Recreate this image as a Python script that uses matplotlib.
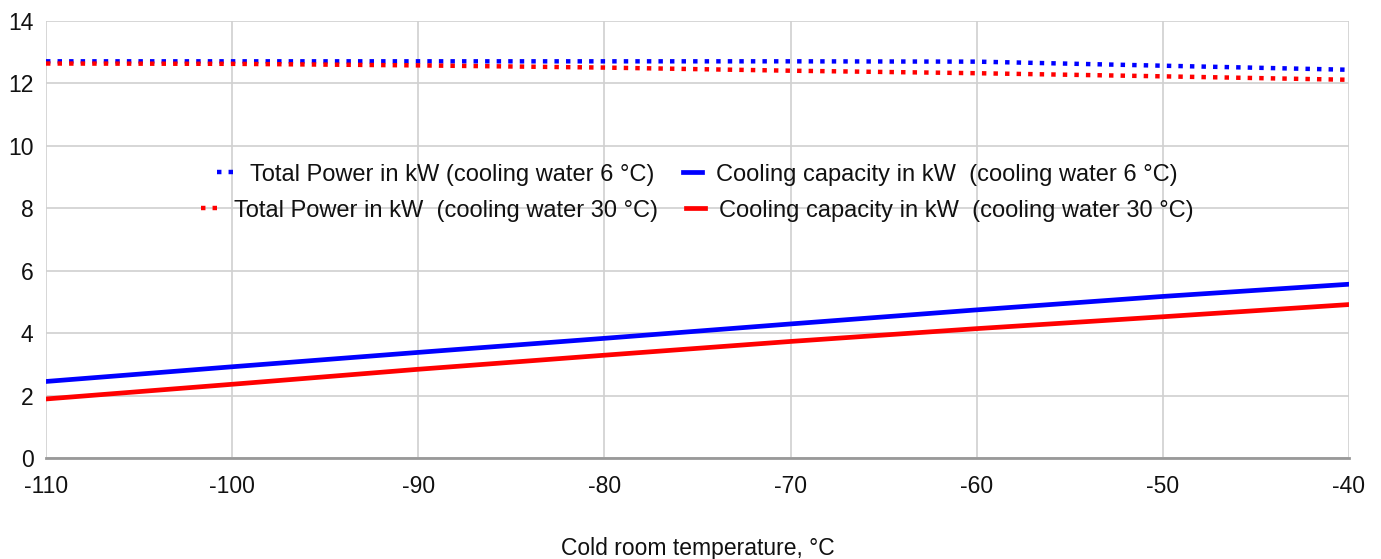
import matplotlib
matplotlib.use('Agg')
import matplotlib.pyplot as plt

plt.rcParams['font.family'] = ['Liberation Sans', 'DejaVu Sans']
plt.rcParams['axes.unicode_minus'] = False

# cold room temperature, degC
temps = [-110, -100, -90, -80, -70, -60, -50, -40]

# total power in kW
power_cw6 = [12.70, 12.70, 12.70, 12.70, 12.70, 12.69, 12.56, 12.43]
power_cw30 = [12.63, 12.62, 12.57, 12.50, 12.40, 12.32, 12.22, 12.11]

# cooling capacity in kW
cap_cw6 = [2.46, 2.93, 3.39, 3.84, 4.30, 4.75, 5.18, 5.57]
cap_cw30 = [1.90, 2.37, 2.85, 3.30, 3.74, 4.15, 4.53, 4.92]

labels = ['Total Power in kW (cooling water 6 °C)',
          'Cooling capacity in kW  (cooling water 6 °C)',
          'Total Power in kW  (cooling water 30 °C)',
          'Cooling capacity in kW  (cooling water 30 °C)']

fig = plt.figure(figsize=(13.81, 5.59), dpi=100)
ax = fig.add_axes([0.0333, 0.180, 0.9435, 0.783])

dot = (0, (1, 1.6))
l1, = ax.plot(temps, power_cw6, color='#0000ff', lw=3.2, ls=dot, label=labels[0])
l2, = ax.plot(temps, cap_cw6, color='#0000ff', lw=3.4, label=labels[1])
l3, = ax.plot(temps, power_cw30, color='#ff0000', lw=3.2, ls=dot, label=labels[2])
l4, = ax.plot(temps, cap_cw30, color='#ff0000', lw=3.4, label=labels[3])

ax.set_xlim(-110, -40)
ax.set_ylim(0, 14)
ax.set_xticks(range(-110, -39, 10))
ax.set_yticks(range(0, 15, 2))
ax.grid(True, color='#d0d0d0', lw=1.2)
ax.set_axisbelow(True)
for s in ['top', 'right', 'left']:
    ax.spines[s].set_visible(False)
ax.spines['bottom'].set_color('#999999')
ax.spines['bottom'].set_linewidth(2)
ax.spines['bottom'].set_zorder(1)
ax.tick_params(axis='both', length=0, labelsize=16.5, colors='#111111')
ax.tick_params(axis='x', pad=12)
ax.tick_params(axis='y', pad=9)

leg_kw = dict(ncol=2, frameon=False, handlelength=0.8,
              handletextpad=0.6, columnspacing=1.2, borderaxespad=0, loc='center',
              prop={'size': 17})
leg1 = ax.legend([l1, l2], labels[:2], bbox_to_anchor=(0.5, 0.648), **leg_kw)
ax.add_artist(leg1)
leg2 = ax.legend([l3, l4], labels[2:], bbox_to_anchor=(0.5, 0.566), **leg_kw)
for lg in (leg1, leg2):
    for t in lg.get_texts():
        t.set_color('#111111')

fig.text(0.505, 0.018, 'Cold room temperature, °C', ha='center', va='center',
         fontsize=16.5, color='#111111')

fig.savefig('out.png', dpi=100)
